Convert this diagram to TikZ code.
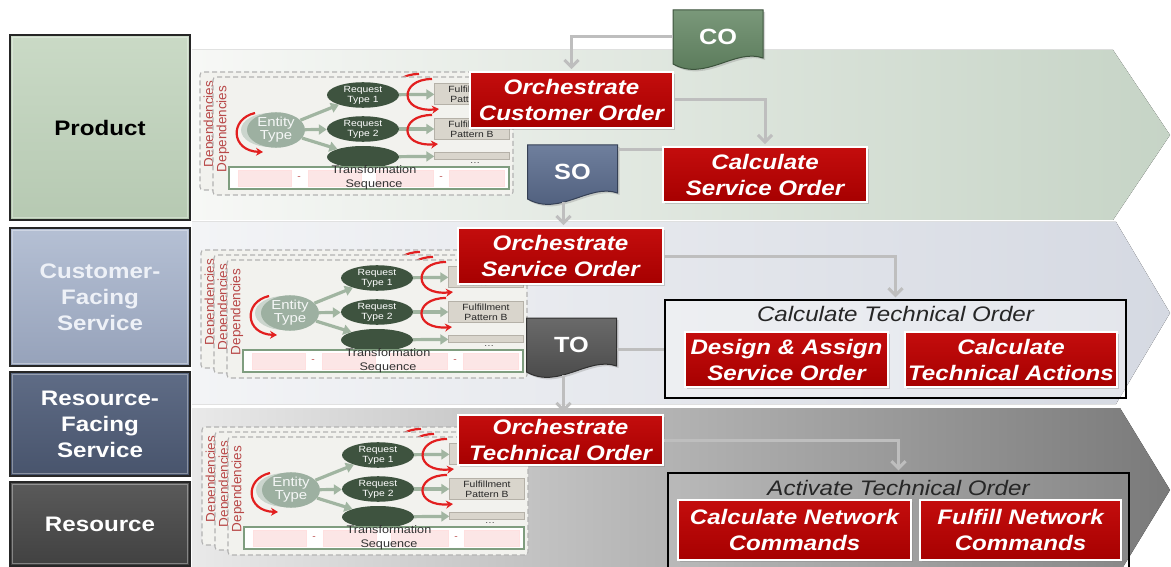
\documentclass[tikz,border=0pt]{standalone}
\usepackage{fontspec}
\setmainfont{Liberation Sans}[FakeStretch=1.15]
\newfontfamily\narrowsans{Liberation Sans}
\usetikzlibrary{arrows.meta,calc,shadows,shapes.geometric}

% band colours
\definecolor{bandAl}{HTML}{F7F8F6}
\definecolor{bandAr}{HTML}{C6D4C6}
\definecolor{bandBl}{HTML}{F3F4F6}
\definecolor{bandBr}{HTML}{D5D9E2}
\definecolor{bandCl}{HTML}{E9E9E9}
\definecolor{bandCr}{HTML}{7A7A7A}
% layer boxes
\definecolor{prodT}{HTML}{CADAC6}
\definecolor{prodB}{HTML}{B6C9B2}
\definecolor{cfsT}{HTML}{B5C0D4}
\definecolor{cfsB}{HTML}{96A2BA}
\definecolor{cfsText}{HTML}{EEF1F7}
\definecolor{rfsT}{HTML}{5F6C86}
\definecolor{rfsB}{HTML}{48546C}
\definecolor{resT}{HTML}{5A5A5A}
\definecolor{resB}{HTML}{414141}
% tasks and order documents
\definecolor{taskT}{HTML}{C40D0D}
\definecolor{taskB}{HTML}{A60000}
\definecolor{coT}{HTML}{7A987A}
\definecolor{coB}{HTML}{567656}
\definecolor{soT}{HTML}{6F7F9D}
\definecolor{soB}{HTML}{4B5B79}
\definecolor{toT}{HTML}{6A6A6A}
\definecolor{toB}{HTML}{454545}
\definecolor{flow}{HTML}{BEBEBE}
% dependency cards
\definecolor{entfill}{HTML}{9DB0A1}
\definecolor{entghost}{HTML}{CBD5CD}
\definecolor{reqfill}{HTML}{3E533F}
\definecolor{linkgreen}{HTML}{A1B5A1}
\definecolor{depred}{HTML}{B84848}
\definecolor{loopred}{HTML}{E21F1F}
\definecolor{patfill}{HTML}{D9D5CC}
\definecolor{patline}{HTML}{B5B1A8}
\definecolor{seqgreen}{HTML}{7F9D7F}
\definecolor{cellpink}{HTML}{FCE6E6}
\definecolor{framefill}{HTML}{F2F2EE}

\tikzset{
  layer/.style={rectangle, draw=black!85, line width=1.3pt, minimum width=180pt,
    inner sep=0pt, align=center, font=\bfseries\fontsize{21}{26}\selectfont},
  task/.style={rectangle, draw=white, line width=1.8pt, top color=taskT, bottom color=taskB,
    text=white, align=center, inner sep=0pt,
    font=\bfseries\itshape\fontsize{21}{26}\selectfont,
    drop shadow={shadow xshift=2pt, shadow yshift=-2pt, opacity=0.35}},
  group/.style={rectangle, draw=black, line width=1.3pt, inner sep=0pt},
  grouptitle/.style={font=\itshape\fontsize{21}{25}\selectfont, text=black!85, inner sep=0pt},
  doclabel/.style={rectangle, inner sep=0pt, text=white, font=\bfseries\fontsize{22}{26}\selectfont},
  flowarrow/.style={draw=flow, line width=3pt, -{Straight Barb[length=7pt,width=14pt]}, shorten >=2pt},
  flowline/.style={draw=flow, line width=3pt},
  depframe/.style={rectangle, rounded corners=3pt, draw=black!30, dash pattern=on 5pt off 3pt,
    line width=1.1pt, fill=framefill, minimum width=300pt, minimum height=118pt, inner sep=0pt},
  deplabel/.style={rotate=90, text=depred, font=\narrowsans\fontsize{13.5}{14}\selectfont, inner sep=0pt},
  entity/.style={ellipse, fill=entfill, minimum width=58pt, minimum height=34pt, inner sep=0pt,
    align=center, text=white!90!entfill, font=\fontsize{13}{13}\selectfont},
  entshadow/.style={ellipse, fill=entghost, minimum width=58pt, minimum height=34pt, inner sep=0pt},
  reqtype/.style={ellipse, fill=reqfill, minimum width=72pt, minimum height=22pt, inner sep=0pt,
    align=center, text=white, font=\fontsize{9}{10}\selectfont},
  pattern/.style={rectangle, fill=patfill, draw=patline, minimum width=75pt, minimum height=21pt,
    inner sep=0pt, align=center, text=black!85, font=\fontsize{9}{10}\selectfont},
  link/.style={draw=linkgreen, line width=3.2pt, -{Triangle[length=8pt,width=10pt]}},
  loopback/.style={draw=loopred, line width=2.2pt, -{Stealth[length=7pt,width=8pt]}},
  seqbar/.style={rectangle, draw=seqgreen, line width=2.2pt, fill=white, minimum width=280pt,
    minimum height=22pt, inner sep=0pt},
  seqcell/.style={rectangle, fill=cellpink, draw=red!12, minimum height=16pt, inner sep=0pt},
  seqsep/.style={inner sep=0pt, text=red!45!gray, font=\fontsize{9}{9}\selectfont},
  seqtext/.style={align=center, inner sep=0pt, text=black!80, font=\fontsize{11}{14}\selectfont},
  dotsmark/.style={inner sep=0pt, text=black!70, font=\fontsize{9}{9}\selectfont},
}

% loop arrows of a card (entity type and fulfillment patterns)
\newcommand\cardloops{%
  \draw[loopback] (42,36) .. controls (16,42) and (18,74) .. (50,75);
  \draw[loopback] (219,2) .. controls (186,2) and (186,36) .. (226,32);
  \draw[loopback] (219,38) .. controls (186,38) and (186,70) .. (225,67);
}

% a card lying behind another one: only its edge shows
\newcommand\depback[1]{%
  \node[depframe] (#1-frame) at (150,59) {};
  \node[deplabel] (#1-dep) at (10,52) {Dependencies};
  \cardloops
}

% the front dependency card, in its own local frame (origin = top left corner)
\newcommand\depcard[1]{%
  \node[depframe] (#1-frame) at (150,59) {};
  \node[deplabel] (#1-dep) at (10,52) {Dependencies};
  \node[entshadow] (#1-ghost) at (57,53) {};
  \node[entity] (#1-ent) at (63,53) {Entity\\Type};
  \node[reqtype] (#1-r1) at (150,18) {Request\\Type 1};
  \node[reqtype] (#1-r2) at (150,52) {Request\\Type 2};
  \node[reqtype] (#1-r3) at (150,80) {};
  \node[pattern] (#1-pa) at (259,17) {Fulfillment\\Pattern A};
  \node[pattern] (#1-pb) at (259,52) {Fulfillment\\Pattern B};
  \node[pattern, minimum height=7pt] (#1-pc) at (259,79) {};
  \node[dotsmark] (#1-pd) at (262,86) {\ldots};
  \draw[link] (#1-ent) -- (#1-r1);
  \draw[link] (#1-ent) -- (#1-r2);
  \draw[link] (#1-ent) -- (#1-r3);
  \draw[link] (#1-r1) -- (#1-pa);
  \draw[link] (#1-r2) -- (#1-pb);
  \draw[link] (#1-r3) -- (#1-pc);
  \cardloops
  \node[seqbar] (#1-bar) at (156,101) {};
  \node[seqcell, minimum width=53pt] (#1-c1) at (51.5,101) {};
  \node[seqcell, minimum width=53pt] (#1-c2) at (121.5,101) {};
  \node[seqcell, minimum width=57pt] (#1-c3) at (191.5,101) {};
  \node[seqcell, minimum width=55pt] (#1-c4) at (263.5,101) {};
  \node[seqsep] (#1-s1) at (86,101) {-};
  \node[seqsep] (#1-s3) at (228,101) {-};
  \node[seqtext] (#1-seq) at (161,101) {Transformation\\Sequence};
}

% a stack of cards, drawn back to front
\newcommand\depstack[4]{%
  \foreach \k in {#4}{%
    \begin{scope}[shift={({#2-13*\k},{#3-5*\k})}]
      \ifnum\k=0 \depcard{#1\k}\else\depback{#1\k}\fi
    \end{scope}
  }%
}

% order document with a wavy lower edge
\newcommand\orderdoc[4]{%
  \coordinate (#1-c) at #2;
  \path[top color=#3, bottom color=#4, draw=#4!70!black, line width=1pt,
        drop shadow={shadow xshift=2pt, shadow yshift=-2pt, opacity=0.3}]
    ($(#1-c)+(-45,-27)$) -- ($(#1-c)+(45,-27)$) -- ($(#1-c)+(45,21)$)
    .. controls ($(#1-c)+(17,11)$) and ($(#1-c)+(-13,45)$) .. ($(#1-c)+(-45,27)$) -- cycle;
}

\begin{document}
\begin{tikzpicture}[x=1pt,y=-1pt]
\useasboundingbox (0,0) rectangle (1171,567);
\clip (0,0) rectangle (1171,567);
\fill[white] (0,0) rectangle (1171,567);

% process bands
\fill[left color=bandAl, right color=bandAr]
  (192,50) -- (1113,50) -- (1170,135) -- (1113,220) -- (192,220) -- cycle;
\fill[left color=bandBl, right color=bandBr]
  (192,222) -- (1116,222) -- (1170,313) -- (1116,404) -- (192,404) -- cycle;
\fill[left color=bandCl, right color=bandCr]
  (192,408) -- (1120,408) -- (1170,490) -- (1120,572) -- (192,572) -- cycle;

% layers
\node[layer, top color=prodT, bottom color=prodB, minimum height=185pt, text=black]
  (prod) at (100,127.5) {Product};
\node[layer, top color=cfsT, bottom color=cfsB, minimum height=138pt, text=cfsText]
  (cfs) at (100,297) {Customer-\\Facing\\Service};
\node[layer, top color=rfsT, bottom color=rfsB, minimum height=104pt, text=white]
  (rfs) at (100,424) {Resource-\\Facing\\Service};
\node[layer, top color=resT, bottom color=resB, minimum height=84pt, text=white]
  (res) at (100,524) {Resource};
\foreach \b in {prod,cfs,rfs,res}{
  \draw[white, opacity=0.35, line width=1.5pt]
    ($(\b.north west)+(3,3)$) rectangle ($(\b.south east)+(-3,-3)$);
}

% dependency cards per layer
\depstack{pa}{213}{77}{1,0}
\depstack{pb}{227}{260}{2,1,0}
\depstack{pc}{228}{437}{2,1,0}

% grouped steps
\node[group, fill=white, fill opacity=0.35, draw opacity=1, minimum width=461pt, minimum height=98pt]
  (cto) at (895.5,349) {};
\node[grouptitle] (cto-title) at (895.5,314) {Calculate Technical Order};
\node[group, fill=white, fill opacity=0.08, draw opacity=1, minimum width=461pt, minimum height=100pt]
  (ato) at (898.5,523) {};
\node[grouptitle] (ato-title) at (898.5,488) {Activate Technical Order};

% order documents
\orderdoc{co}{(718,37)}{coT}{coB}
\node[doclabel, minimum width=90pt, minimum height=54pt] (co) at (co-c) {CO};
\orderdoc{so}{(572.5,172)}{soT}{soB}
\node[doclabel, minimum width=90pt, minimum height=54pt] (so) at (so-c) {SO};
\orderdoc{to}{(571.5,345)}{toT}{toB}
\node[doclabel, minimum width=90pt, minimum height=54pt] (to) at (to-c) {TO};

% process steps
\node[task, minimum width=203pt, minimum height=56pt] (oco) at (571.5,100) {Orchestrate\\Customer Order};
\node[task, minimum width=204pt, minimum height=55pt] (cso) at (765,174.5) {Calculate\\Service Order};
\node[task, minimum width=205pt, minimum height=56pt] (oso) at (560.5,256) {Orchestrate\\Service Order};
\node[task, minimum width=203pt, minimum height=55pt] (daso) at (786.5,359.5) {Design \& Assign\\Service Order};
\node[task, minimum width=212pt, minimum height=55pt] (cta) at (1011,359.5) {Calculate\\Technical Actions};
\node[task, minimum width=205pt, minimum height=50pt] (oto) at (560.5,440) {Orchestrate\\Technical Order};
\node[task, minimum width=233pt, minimum height=60pt] (cnc) at (794.5,530) {Calculate Network\\Commands};
\node[task, minimum width=201pt, minimum height=60pt] (fnc) at (1020.5,530) {Fulfill Network\\Commands};

% order flow
\draw[flowarrow] (co.west) -| (oco.north);
\draw[flowarrow] (oco.east) -| (cso.north);
\coordinate (so-link) at ($(so.north east)+(0,5)$);
\draw[flowline] (so-link) -- (so-link -| cso.west);
\draw[flowarrow] ($(so.south -| oso.north)+(3,3)$) -- ($(oso.north)+(3,0)$);
\draw[flowarrow] (oso.east) -| (cto.north);
\coordinate (to-link) at ($(to.east)+(0,4)$);
\draw[flowline] (to-link) -- (to-link -| cto.west);
\draw[flowarrow] ($(to.south -| oto.north)+(3,3)$) -- ($(oto.north)+(3,0)$);
\draw[flowarrow] (oto.east) -| (ato.north);
\end{tikzpicture}
\end{document}
